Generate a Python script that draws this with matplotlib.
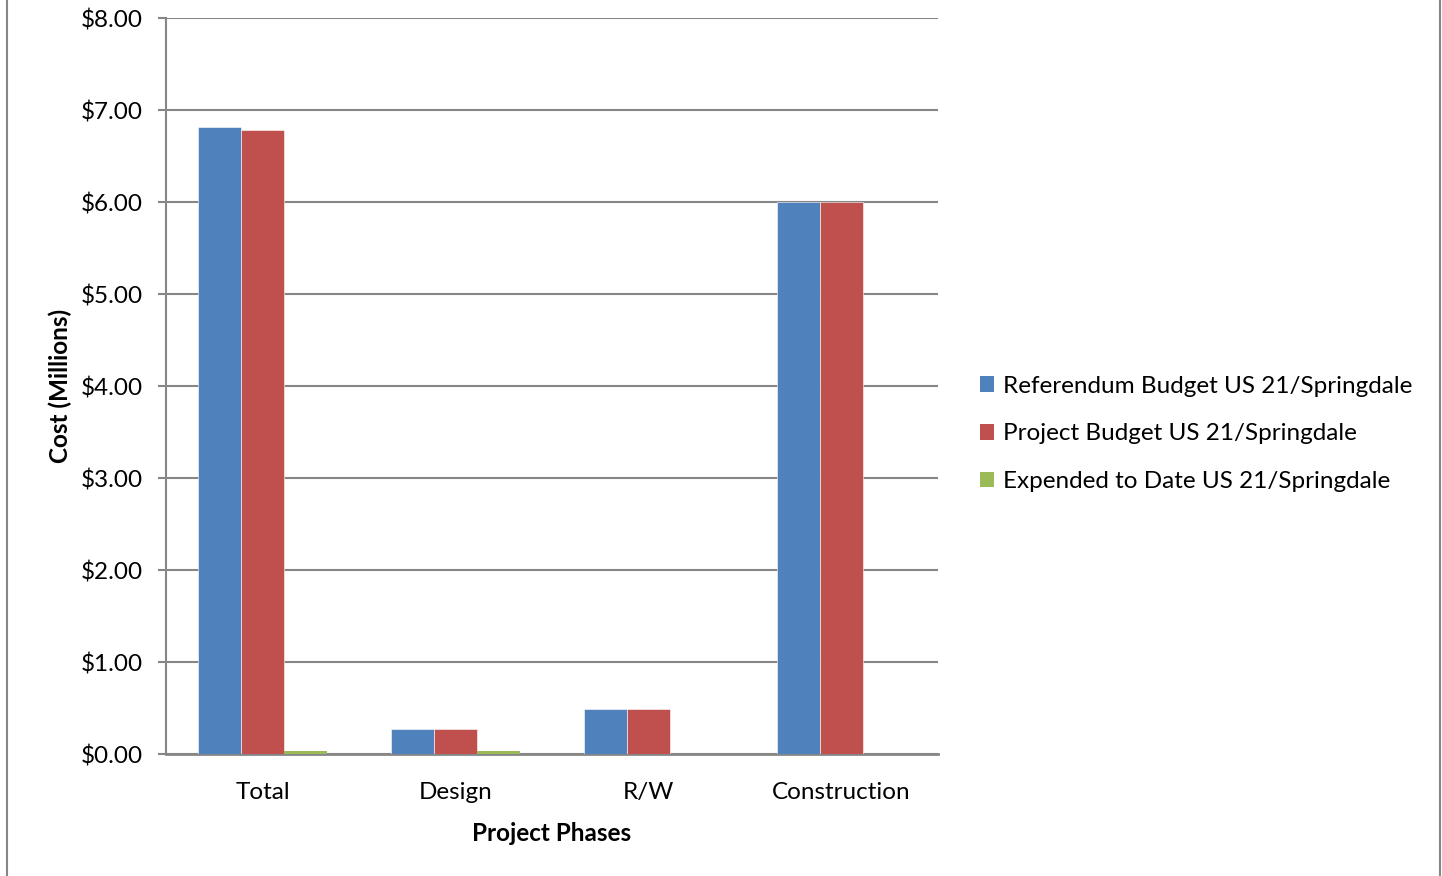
import matplotlib
matplotlib.use("Agg")
import matplotlib.pyplot as plt
from matplotlib.patches import Patch
from matplotlib.lines import Line2D
import numpy as np

categories = ["Total", "Design", "R/W", "Construction"]
series_names = ["Referendum Budget US 21/Springdale",
                "Project Budget US 21/Springdale",
                "Expended to Date US 21/Springdale"]
referendum = [6.82, 0.27, 0.49, 6.00]
project = [6.78, 0.27, 0.49, 6.00]
expended = [0.03, 0.03, 0.0, 0.0]
colors = ["#4F81BD", "#C0504D", "#9BBB59"]
yticks = [0, 1, 2, 3, 4, 5, 6, 7, 8]
ytick_labels = ["$%.2f" % v for v in yticks]

plt.rcParams['font.family'] = ['Lato', 'DejaVu Sans']
FS = 17.5

W, H = 1442, 876
fig = plt.figure(figsize=(W / 100, H / 100), dpi=100)
ax = fig.add_axes([166 / W, 1 - 754 / H, (938 - 166) / W, (754 - 18) / H])

x = np.arange(len(categories))
bw = 1 / 4.5
for i, (vals, c, name) in enumerate(zip([referendum, project, expended], colors, series_names)):
    ax.bar(x + (i - 1) * bw, vals, width=bw, color=c,
           edgecolor='white' if i < 2 else 'none', linewidth=0.4 if i < 2 else 0,
           label=name, zorder=3)

ax.set_xlim(-0.5, len(categories) - 0.5)
ax.set_ylim(0, 8)
ax.set_yticks(yticks)
ax.set_yticklabels(ytick_labels, fontsize=FS)
ax.set_xticks(x)
ax.set_xticklabels(categories, fontsize=FS)
ax.yaxis.grid(True, color='#868686', linewidth=1.5, zorder=0)
for s in ['top', 'right']:
    ax.spines[s].set_visible(False)
ax.spines['left'].set_color('#868686')
ax.spines['left'].set_linewidth(1.5)
ax.spines['bottom'].set_color('#868686')
ax.spines['bottom'].set_linewidth(2)
ax.spines['bottom'].set_zorder(2)
ax.tick_params(axis='y', length=6, width=1.5, color='#868686', pad=11)
ax.tick_params(axis='x', length=0, pad=20)
ax.set_xlabel("Project Phases", fontsize=FS, fontweight='bold', labelpad=14)
ax.set_ylabel("Cost (Millions)", fontsize=FS, fontweight='bold', labelpad=6)

handles = [Patch(facecolor=c, edgecolor='none') for c in colors]
fig.legend(handles, series_names, loc='center left', bbox_to_anchor=(958 / W, 1 - 434 / H),
           frameon=False, fontsize=FS, handlelength=0.6, handleheight=0.6,
           handletextpad=0.35, labelspacing=1.1)

# outer chart frame (left and right borders)
fig.add_artist(Line2D([7 / W, 7 / W], [0, 1], color='#868686', linewidth=1.5, transform=fig.transFigure))
fig.add_artist(Line2D([1440 / W, 1440 / W], [0, 1], color='#868686', linewidth=1.5, transform=fig.transFigure))

fig.savefig("out.png", dpi=100)
